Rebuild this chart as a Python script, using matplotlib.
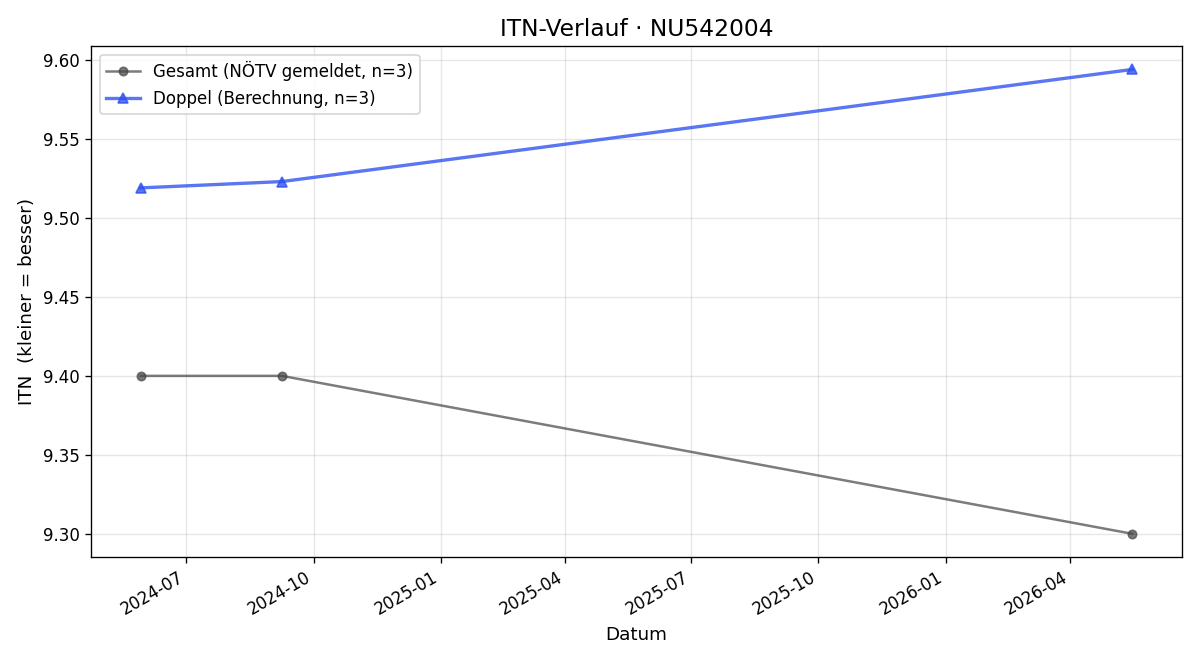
import matplotlib
matplotlib.use('Agg')
import matplotlib.pyplot as plt
import matplotlib.dates as mdates
from datetime import datetime

dates = [datetime(2024, 5, 29), datetime(2024, 9, 8), datetime(2026, 5, 16)]
gesamt = [9.40, 9.40, 9.30]
doppel = [9.519, 9.523, 9.594]

fig, ax = plt.subplots(figsize=(10, 5.5), dpi=120)
ax.plot(dates, gesamt, marker='o', markersize=5, color='#444444', alpha=0.7,
        linewidth=1.5, label='Gesamt (NÖTV gemeldet, n=3)')
ax.plot(dates, doppel, marker='^', markersize=6, color='#2b50f0', alpha=0.78,
        linewidth=2, label='Doppel (Berechnung, n=3)')

ax.set_title('ITN-Verlauf · NU542004', fontsize=14)
ax.set_xlabel('Datum', fontsize=11)
ax.set_ylabel('ITN  (kleiner = besser)', fontsize=11)
ax.xaxis.set_major_locator(mdates.MonthLocator(bymonth=[1, 4, 7, 10]))
ax.xaxis.set_major_formatter(mdates.DateFormatter('%Y-%m'))
ax.grid(True, alpha=0.3)
ax.legend(loc='upper left', fontsize=10)
fig.autofmt_xdate()
fig.subplots_adjust(left=0.076, right=0.985, top=0.930, bottom=0.156)
fig.savefig('out.png')
